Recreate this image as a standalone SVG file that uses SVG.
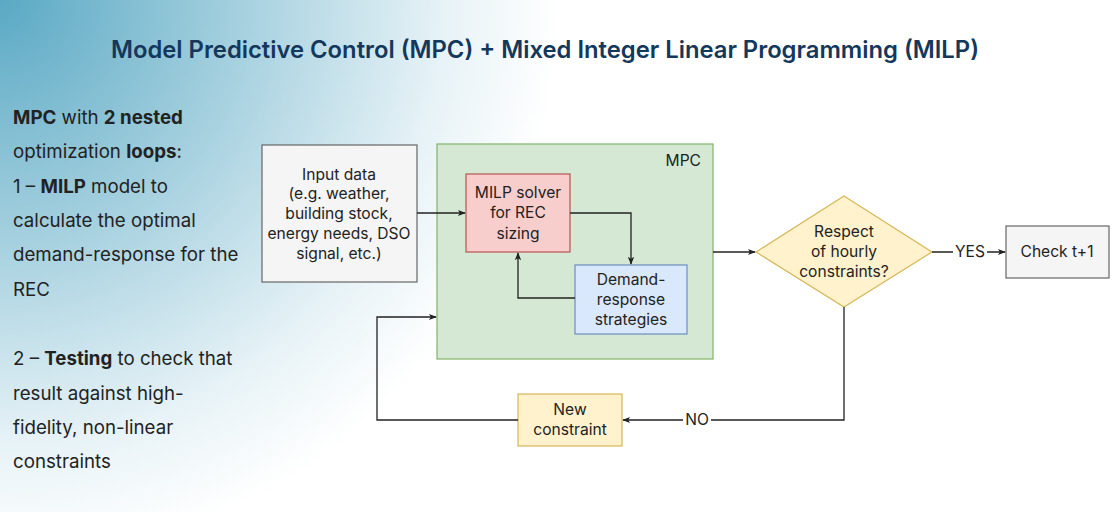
<svg xmlns="http://www.w3.org/2000/svg" width="1117" height="512" viewBox="0 0 1117 512">
<defs>
<radialGradient id="bg" cx="0" cy="0" r="560" gradientUnits="userSpaceOnUse">
<stop offset="0" stop-color="#5aa9c4"/>
<stop offset="0.45" stop-color="#a9d2e0"/>
<stop offset="0.8" stop-color="#e8f3f7"/>
<stop offset="1" stop-color="#ffffff"/>
</radialGradient>
<marker id="arr" viewBox="0 0 10 10" refX="9" refY="5" markerWidth="8" markerHeight="8" markerUnits="userSpaceOnUse" orient="auto">
<path d="M0,1 L10,5 L0,9 L2.5,5 Z" fill="#222"/>
</marker>
<style>
.t{font-family:Inter,"Liberation Sans",sans-serif;font-size:15.6px;fill:#222;text-anchor:middle}
.l{font-family:Inter,"Liberation Sans",sans-serif;font-size:18.7px;fill:#222}
.b{font-weight:700}
.c{fill:none;stroke:#222;stroke-width:1.3;marker-end:url(#arr)}
</style>
</defs>
<rect width="1117" height="512" fill="#ffffff"/>
<rect width="1117" height="512" fill="url(#bg)"/>
<text x="545" y="58" font-family="Inter,'Liberation Sans',sans-serif" font-size="23.8" font-weight="600" fill="#14375c" text-anchor="middle">Model Predictive Control (MPC) + Mixed Integer Linear Programming (MILP)</text>
<g id="description">
<text class="l" x="13" y="124"><tspan class="b">MPC</tspan> with <tspan class="b">2 nested</tspan></text>
<text class="l" x="13" y="158">optimization <tspan class="b">loops</tspan>:</text>
<text class="l" x="13" y="193">1 – <tspan class="b">MILP</tspan> model to</text>
<text class="l" x="13" y="227">calculate the optimal</text>
<text class="l" x="13" y="261">demand-response for the</text>
<text class="l" x="13" y="296">REC</text>
<text class="l" x="13" y="365">2 – <tspan class="b">Testing</tspan> to check that</text>
<text class="l" x="13" y="400">result against high-</text>
<text class="l" x="13" y="434">fidelity, non-linear</text>
<text class="l" x="13" y="468">constraints</text>
</g>
<g id="mpc">
<rect x="437" y="144" width="276" height="215" fill="#d5e8d4" stroke="#82b366" stroke-width="1.2"/>
<text class="t" x="701" y="166" style="text-anchor:end">MPC</text>
</g>
<g id="input">
<rect x="262" y="145" width="155" height="137" fill="#f5f5f5" stroke="#666" stroke-width="1.2"/>
<text class="t" x="339" y="180">Input data</text>
<text class="t" x="339" y="199">(e.g. weather,</text>
<text class="t" x="339" y="219">building stock,</text>
<text class="t" x="339" y="239">energy needs, DSO</text>
<text class="t" x="339" y="259">signal, etc.)</text>
</g>
<g id="milp">
<rect x="466" y="174" width="104" height="78" fill="#f8cecc" stroke="#b85450" stroke-width="1.2"/>
<text class="t" x="518" y="198">MILP solver</text>
<text class="t" x="518" y="218">for REC</text>
<text class="t" x="518" y="239">sizing</text>
</g>
<g id="demand">
<rect x="575" y="265" width="112" height="69" fill="#dae8fc" stroke="#6c8ebf" stroke-width="1.2"/>
<text class="t" x="631" y="285">Demand-</text>
<text class="t" x="631" y="305">response</text>
<text class="t" x="631" y="325">strategies</text>
</g>
<g id="decision">
<polygon points="844,196 932,252 844,307 756,252" fill="#fff2cc" stroke="#d6b656" stroke-width="1.2"/>
<text class="t" x="844" y="237">Respect</text>
<text class="t" x="844" y="257">of hourly</text>
<text class="t" x="844" y="277">constraints?</text>
</g>
<g id="check">
<rect x="1006" y="226" width="103" height="52" fill="#f5f5f5" stroke="#666" stroke-width="1.2"/>
<text class="t" x="1057" y="257">Check t+1</text>
</g>
<g id="newconstraint">
<rect x="518" y="394" width="104" height="52" fill="#fff2cc" stroke="#d6b656" stroke-width="1.2"/>
<text class="t" x="570" y="415">New</text>
<text class="t" x="570" y="435">constraint</text>
</g>
<g id="connectors">
<path class="c" d="M417,213 H465"/>
<path class="c" d="M570,213 H631 V264"/>
<path class="c" d="M575,298 H518 V253"/>
<path class="c" d="M713,252 H755"/>
<path class="c" d="M932,252 H1005"/>
<rect x="953" y="242" width="34" height="20" fill="#fff"/>
<text class="t" x="970" y="257">YES</text>
<path class="c" d="M844,307 V420 H623"/>
<rect x="683" y="410" width="28" height="20" fill="#fff"/>
<text class="t" x="697" y="425">NO</text>
<path class="c" d="M518,420 H377 V317 H436"/>
</g>
</svg>
